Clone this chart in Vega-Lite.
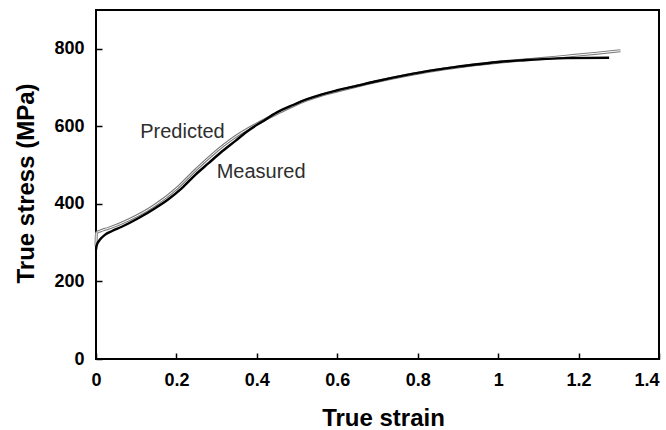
{
  "$schema": "https://vega.github.io/schema/vega-lite/v6.json",
  "width": 563,
  "height": 349,
  "autosize": {"type": "none"},
  "padding": {"left": 96, "top": 10, "right": 7, "bottom": 71},
  "background": "white",
  "config": {
    "view": {"stroke": "#000", "strokeWidth": 2},
    "font": "Liberation Sans"
  },
  "datasets": {
    "curves": [
      {"series": "Predicted", "i": 0, "strain": 0, "stress": 292},
      {"series": "Predicted", "i": 1, "strain": 0.001, "stress": 325},
      {"series": "Predicted", "i": 2, "strain": 0.01, "stress": 330},
      {"series": "Predicted", "i": 3, "strain": 0.031, "stress": 337},
      {"series": "Predicted", "i": 4, "strain": 0.08, "stress": 358},
      {"series": "Predicted", "i": 5, "strain": 0.147, "stress": 397},
      {"series": "Predicted", "i": 6, "strain": 0.205, "stress": 444},
      {"series": "Predicted", "i": 7, "strain": 0.247, "stress": 487},
      {"series": "Predicted", "i": 8, "strain": 0.288, "stress": 526},
      {"series": "Predicted", "i": 9, "strain": 0.346, "stress": 573},
      {"series": "Predicted", "i": 10, "strain": 0.396, "stress": 604},
      {"series": "Predicted", "i": 11, "strain": 0.45, "stress": 633},
      {"series": "Predicted", "i": 12, "strain": 0.49, "stress": 653},
      {"series": "Predicted", "i": 13, "strain": 0.525, "stress": 668},
      {"series": "Predicted", "i": 14, "strain": 0.56, "stress": 680},
      {"series": "Predicted", "i": 15, "strain": 0.6, "stress": 691},
      {"series": "Predicted", "i": 16, "strain": 0.65, "stress": 704},
      {"series": "Predicted", "i": 17, "strain": 0.7, "stress": 716},
      {"series": "Predicted", "i": 18, "strain": 0.77, "stress": 731},
      {"series": "Predicted", "i": 19, "strain": 0.84, "stress": 744},
      {"series": "Predicted", "i": 20, "strain": 0.9, "stress": 753},
      {"series": "Predicted", "i": 21, "strain": 1.0, "stress": 765},
      {"series": "Predicted", "i": 22, "strain": 1.1, "stress": 774},
      {"series": "Predicted", "i": 23, "strain": 1.17, "stress": 781},
      {"series": "Predicted", "i": 24, "strain": 1.24, "stress": 788},
      {"series": "Predicted", "i": 25, "strain": 1.304, "stress": 795},
      {"series": "Measured", "i": 0, "strain": 0, "stress": 282},
      {"series": "Measured", "i": 1, "strain": 0.002, "stress": 294},
      {"series": "Measured", "i": 2, "strain": 0.01, "stress": 308},
      {"series": "Measured", "i": 3, "strain": 0.022, "stress": 320},
      {"series": "Measured", "i": 4, "strain": 0.04, "stress": 330},
      {"series": "Measured", "i": 5, "strain": 0.064, "stress": 341},
      {"series": "Measured", "i": 6, "strain": 0.105, "stress": 363},
      {"series": "Measured", "i": 7, "strain": 0.147, "stress": 389},
      {"series": "Measured", "i": 8, "strain": 0.18, "stress": 412},
      {"series": "Measured", "i": 9, "strain": 0.213, "stress": 440},
      {"series": "Measured", "i": 10, "strain": 0.247, "stress": 475},
      {"series": "Measured", "i": 11, "strain": 0.28, "stress": 505},
      {"series": "Measured", "i": 12, "strain": 0.313, "stress": 535},
      {"series": "Measured", "i": 13, "strain": 0.346, "stress": 562},
      {"series": "Measured", "i": 14, "strain": 0.38, "stress": 590},
      {"series": "Measured", "i": 15, "strain": 0.413, "stress": 612},
      {"series": "Measured", "i": 16, "strain": 0.45, "stress": 636},
      {"series": "Measured", "i": 17, "strain": 0.49, "stress": 655},
      {"series": "Measured", "i": 18, "strain": 0.525, "stress": 670},
      {"series": "Measured", "i": 19, "strain": 0.56, "stress": 682},
      {"series": "Measured", "i": 20, "strain": 0.6, "stress": 693},
      {"series": "Measured", "i": 21, "strain": 0.65, "stress": 705},
      {"series": "Measured", "i": 22, "strain": 0.7, "stress": 717},
      {"series": "Measured", "i": 23, "strain": 0.77, "stress": 732},
      {"series": "Measured", "i": 24, "strain": 0.84, "stress": 745},
      {"series": "Measured", "i": 25, "strain": 0.9, "stress": 754},
      {"series": "Measured", "i": 26, "strain": 0.95, "stress": 760},
      {"series": "Measured", "i": 27, "strain": 1.0, "stress": 766},
      {"series": "Measured", "i": 28, "strain": 1.07, "stress": 771},
      {"series": "Measured", "i": 29, "strain": 1.12, "stress": 774},
      {"series": "Measured", "i": 30, "strain": 1.17, "stress": 776},
      {"series": "Measured", "i": 31, "strain": 1.276, "stress": 777}
    ],
    "labels": [
      {"label": "Predicted", "strain": 0.11, "stress": 586},
      {"label": "Measured", "strain": 0.3, "stress": 481}
    ]
  },
  "encoding": {
    "x": {
      "field": "strain", "type": "quantitative",
      "scale": {"domain": [0, 1.4], "nice": false, "zero": false},
      "axis": {
        "title": "True strain", "values": [0, 0.2, 0.4, 0.6, 0.8, 1, 1.2, 1.4], "format": "~g",
        "grid": false, "domain": false, "tickSize": -6, "tickColor": "#000", "tickWidth": 1.5,
        "labelFont": "Liberation Sans", "labelFontSize": 18, "labelFontWeight": "bold", "labelColor": "#000",
        "labelPadding": 18, "labelFlush": false,
        "labelAlign": {"condition": {"test": "datum.value >= 1.39", "value": "right"}, "value": "center"},
        "titleFont": "Liberation Sans", "titleFontSize": 24, "titleFontWeight": "bold", "titleColor": "#000",
        "titleX": 287, "titleY": 66, "titleBaseline": "alphabetic", "titleAlign": "center"
      }
    },
    "y": {
      "field": "stress", "type": "quantitative",
      "scale": {"domain": [0, 900], "nice": false},
      "axis": {
        "title": "True stress (MPa)", "values": [0, 200, 400, 600, 800], "format": "d",
        "grid": false, "domain": false, "tickSize": -6, "tickColor": "#000", "tickWidth": 1.5,
        "labelFont": "Liberation Sans", "labelFontSize": 18, "labelFontWeight": "bold", "labelColor": "#000",
        "labelPadding": 18, "labelFlush": false,
        "titleFont": "Liberation Sans", "titleFontSize": 24, "titleFontWeight": "bold", "titleColor": "#000",
        "titleX": -70, "titleY": 173, "titleBaseline": "middle", "titleAlign": "center"
      }
    }
  },
  "layer": [
    {
      "data": {"name": "curves"},
      "transform": [{"filter": "datum.series === 'Predicted'"}],
      "mark": {"type": "line", "stroke": "#7a7a7a", "strokeWidth": 3, "interpolate": "monotone"},
      "encoding": {"order": {"field": "i", "type": "quantitative"}}
    },
    {
      "data": {"name": "curves"},
      "transform": [{"filter": "datum.series === 'Predicted'"}],
      "mark": {"type": "line", "stroke": "#ffffff", "strokeWidth": 1, "interpolate": "monotone"},
      "encoding": {"order": {"field": "i", "type": "quantitative"}}
    },
    {
      "data": {"name": "curves"},
      "transform": [{"filter": "datum.series === 'Measured'"}],
      "mark": {"type": "line", "stroke": "#000000", "strokeWidth": 2.4, "interpolate": "monotone"},
      "encoding": {"order": {"field": "i", "type": "quantitative"}}
    },
    {
      "data": {"name": "labels"},
      "mark": {"type": "text", "align": "left", "baseline": "middle", "font": "Liberation Sans", "fontSize": 20, "color": "#2e2e2e"},
      "encoding": {"text": {"field": "label"}}
    }
  ]
}
